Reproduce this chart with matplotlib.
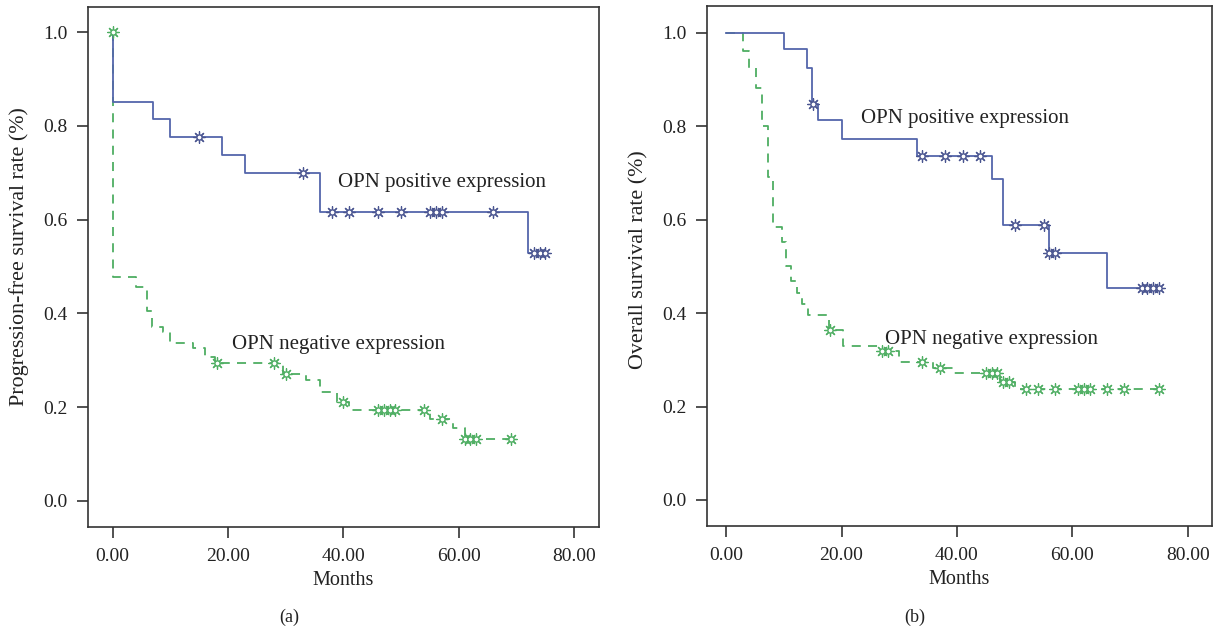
import matplotlib
matplotlib.use('Agg')
import matplotlib.pyplot as plt

# (a) progression-free survival
pfs_pos_t = [0, 0, 7, 10, 19, 23, 36, 72, 75]
pfs_pos_s = [1.0, 0.85, 0.814, 0.776, 0.738, 0.699, 0.615, 0.529, 0.529]
pfs_pos_ct = [15, 33, 38, 41, 46, 50, 55, 56, 57, 66, 73, 74, 75]
pfs_pos_cs = [0.776, 0.699, 0.615, 0.615, 0.615, 0.615, 0.615, 0.615, 0.615, 0.615, 0.529, 0.529, 0.529]

pfs_neg_t = [0, 0, 4, 6, 6.8, 8.8, 10, 14, 16, 17.8, 29.6, 33.5, 36, 38.8, 41, 55, 59, 61, 69]
pfs_neg_s = [1.0, 0.478, 0.457, 0.405, 0.371, 0.361, 0.337, 0.325, 0.307, 0.293, 0.270, 0.257,
             0.232, 0.211, 0.193, 0.175, 0.155, 0.132, 0.132]
pfs_neg_ct = [0, 18, 28, 30, 40, 46, 47, 48, 49, 54, 57, 61, 62, 63, 69]
pfs_neg_cs = [1.0, 0.293, 0.293, 0.270, 0.211, 0.193, 0.193, 0.193, 0.193, 0.193, 0.175,
              0.132, 0.132, 0.132, 0.132]

# (b) overall survival
os_pos_t = [0, 10, 14, 14.9, 16, 20, 33, 46, 48, 56, 66, 75]
os_pos_s = [1.0, 0.965, 0.926, 0.848, 0.814, 0.774, 0.737, 0.687, 0.588, 0.528, 0.455, 0.455]
os_pos_ct = [15, 34, 38, 41, 44, 50, 55, 56, 57, 72, 73, 74, 75]
os_pos_cs = [0.848, 0.737, 0.737, 0.737, 0.737, 0.588, 0.588, 0.528, 0.528, 0.455, 0.455, 0.455, 0.455]

os_neg_t = [0, 3, 4, 5.2, 6.2, 7.3, 8.2, 9.6, 10.3, 11.2, 12.2, 13.1, 14.2, 17.8, 20.3,
            26.9, 29.9, 35.9, 39.4, 47.5, 50.1, 75]
os_neg_s = [1.0, 0.962, 0.925, 0.882, 0.80, 0.692, 0.585, 0.553, 0.50, 0.468, 0.443, 0.42,
            0.397, 0.364, 0.33, 0.319, 0.296, 0.282, 0.271, 0.253, 0.238, 0.238]
os_neg_ct = [18, 27, 28, 34, 37, 45, 46, 47, 48, 49, 52, 54, 57, 61, 62, 63, 66, 69, 75]
os_neg_cs = [0.364, 0.319, 0.319, 0.296, 0.282, 0.271, 0.271, 0.271, 0.253, 0.253,
             0.238, 0.238, 0.238, 0.238, 0.238, 0.238, 0.238, 0.238, 0.238]

yticks = [0.0, 0.2, 0.4, 0.6, 0.8, 1.0]
xticks = [0, 20, 40, 60, 80]

BLUE = '#5466ab'
BLUE_M = '#4a5590'
GREEN = '#4eae62'

plt.rcParams['font.family'] = ['Liberation Serif', 'DejaVu Serif']

fig = plt.figure(figsize=(12.17, 6.31), dpi=100)


def censor(ax, t, s, color):
    ax.scatter(t, s, marker=(8, 2, 0), s=70, color=color, linewidths=0.9, zorder=4)
    ax.scatter(t, s, marker='o', s=14, facecolor='white', edgecolor=color, linewidths=1.0, zorder=5)


def setup(ax, xlim, ylim, ylabel):
    ax.set_xlim(*xlim)
    ax.set_ylim(*ylim)
    ax.set_xticks(xticks)
    ax.set_xticklabels(['%.2f' % v for v in xticks])
    ax.set_yticks(yticks)
    ax.set_yticklabels(['%.1f' % v for v in yticks])
    ax.tick_params(direction='out', length=8, width=1.1, pad=7, labelsize=14, colors='#222222')
    for sp in ax.spines.values():
        sp.set_color('#333333')
        sp.set_linewidth(1.2)
    ax.set_xlabel('Months', fontsize=14.5, color='#222222')
    ax.set_ylabel(ylabel, fontsize=15.8, color='#222222')
    ax.xaxis.set_label_coords(0.5, -0.085)


# panel a
ax1 = fig.add_axes([0.0723, 0.1648, 0.4199, 0.8246])
ax1.step(pfs_neg_t, pfs_neg_s, where='post', color=GREEN, lw=1.3, ls=(0, (5, 4)), zorder=2)
ax1.step(pfs_pos_t, pfs_pos_s, where='post', color=BLUE, lw=1.3, zorder=3)
censor(ax1, pfs_pos_ct, pfs_pos_cs, BLUE_M)
censor(ax1, pfs_neg_ct, pfs_neg_cs, GREEN)
setup(ax1, (-4.28, 84.3), (-0.056, 1.054), 'Progression-free survival rate (%)')
ax1.yaxis.set_label_coords(-0.115, 0.52)
ax1.text(39, 0.678, 'OPN positive expression', fontsize=15, va='center', color='#222222')
ax1.text(20.7, 0.334, 'OPN negative expression', fontsize=15, va='center', color='#222222')

# panel b
ax2 = fig.add_axes([0.581, 0.1664, 0.4149, 0.8241])
ax2.step(os_neg_t, os_neg_s, where='post', color=GREEN, lw=1.3, ls=(0, (5, 4)), zorder=2)
ax2.step(os_pos_t, os_pos_s, where='post', color=BLUE, lw=1.3, zorder=3)
censor(ax2, os_pos_ct, os_pos_cs, BLUE_M)
censor(ax2, os_neg_ct, os_neg_cs, GREEN)
setup(ax2, (-3.3, 84.2), (-0.0557, 1.0578), 'Overall survival rate (%)')
ax2.yaxis.set_label_coords(-0.116, 0.513)
ax2.text(23.4, 0.816, 'OPN positive expression', fontsize=15, va='center', color='#222222')
ax2.text(27.6, 0.343, 'OPN negative expression', fontsize=15, va='center', color='#222222')

fig.text(0.238, 0.021, '(a)', fontsize=13, ha='center', va='center', color='#222222')
fig.text(0.752, 0.021, '(b)', fontsize=13, ha='center', va='center', color='#222222')

plt.savefig('out.png', dpi=100)
plt.close()
